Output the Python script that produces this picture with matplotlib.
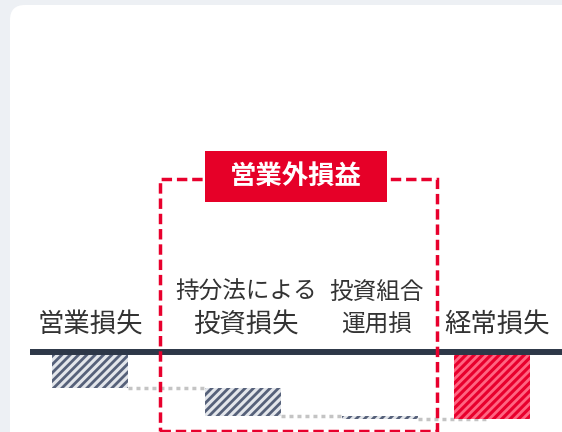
import matplotlib
matplotlib.use("Agg")
import matplotlib.pyplot as plt
import numpy as np
from matplotlib.patches import FancyBboxPatch, Rectangle

# data: losses as downward steps, last column is the running total
categories = ["営業損失", "持分法による\n投資損失", "投資組合\n運用損", "経常損失"]
changes = [-3.6, -2.8, -0.3]
group_title = "営業外損益"

NAVY = "#2d3748"
RED = "#e8002d"
TEXT = "#333333"

plt.rcParams["font.family"] = ["Noto Sans CJK JP", "DejaVu Sans"]
plt.rcParams["hatch.linewidth"] = 2.0

W, H, DPI = 562, 432, 100
fig = plt.figure(figsize=(W / DPI, H / DPI), dpi=DPI, facecolor="#edf0f4")

# white card behind the chart
bg = fig.add_axes([0, 0, 1, 1])
bg.set_xlim(0, W); bg.set_ylim(0, H); bg.axis("off")
bg.add_patch(FancyBboxPatch((10, -40), W + 40, H - 5 + 40, boxstyle="round,pad=0,rounding_size=15", fc="white", ec="none"))

ax = fig.add_axes([0, 0, 1, 1], facecolor="none")
ax.set_xlim(0, W)
ax.set_ylim(-8.0, 35.2)
ax.axis("off")

xpos = [90, 243, 380, 492]
bw = 76
cum = np.cumsum(changes)
starts = np.concatenate([[0], cum[:-1]])
total = cum[-1]

for i, ch in enumerate(changes):
    ax.bar(xpos[i], ch, bottom=starts[i], width=bw, color="#e3e6eb", edgecolor="#56617a", hatch="////", linewidth=0, zorder=2)
ax.bar(xpos[3], total, bottom=0, width=bw, color=RED, edgecolor="#ff6582", hatch="////", linewidth=0, zorder=2)

# dotted connectors
for i in range(len(changes)):
    x0 = xpos[i] + bw / 2
    x1 = xpos[i + 1] - bw / 2 if i < len(changes) - 1 else xpos[i + 1] - 4
    ax.plot([x0, x1], [cum[i], cum[i]], color="#c4c4c4", lw=2.5, linestyle=(0, (1.15, 1.15)), zorder=1)

# baseline
ax.plot([30, W], [0, 0], color=NAVY, lw=4.3, solid_capstyle="butt", zorder=3)

# category labels
label_dx = [0, 3, -3, 5]
for i, lab in enumerate(categories):
    lines = lab.split("\n")
    for j, line in enumerate(reversed(lines)):
        fs = 17 if (i == 2 or len(line) > 5) else 19
        ax.text(xpos[i] + label_dx[i], 2.7 + j * 3.3, line, ha="center", va="center", fontsize=fs, color=TEXT, zorder=4)

# non-operating group box
ax.add_patch(Rectangle((159.5, -7.9), 277, 25.2, fill=False, ec=RED, lw=2.5, linestyle=(0, (3, 1.4)), zorder=4))
ax.add_patch(Rectangle((205, 15.0), 182, 5.1, fc="#e60028", ec="none", zorder=5))
ax.text(296, 17.55, group_title, ha="center", va="center", fontsize=19, fontweight="bold", color="white", zorder=6)

fig.savefig("out.png", dpi=DPI, facecolor=fig.get_facecolor())
